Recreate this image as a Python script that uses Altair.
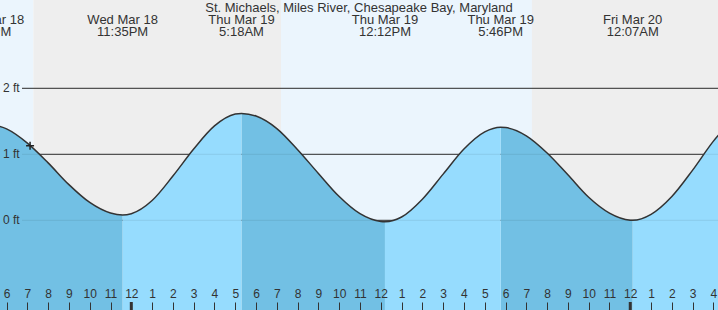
import altair as alt
import pandas as pd

# ---- data ----
title_text = "St. Michaels, Miles River, Chesapeake Bay, Maryland"

# tide level (ft) vs hours from midnight Thu Mar 19
hours = [-6.85, -6, -5, -4, -3, -2, -1, -0.417, 0, 1, 2, 3, 4, 5, 5.3,
         6, 7, 8, 9, 10, 11, 12, 12.2, 13, 14, 15, 16, 17, 17.767,
         18, 19, 20, 21, 22, 23, 24, 24.117, 25, 26, 27, 28, 29]
levels = [1.46, 1.385, 1.17, 0.87, 0.54, 0.27, 0.11, 0.08, 0.10, 0.30, 0.67, 1.08, 1.43, 1.61, 1.62,
          1.58, 1.39, 1.07, 0.71, 0.36, 0.10, -0.017, -0.02, 0.05, 0.32, 0.70, 1.08, 1.34, 1.41,
          1.405, 1.28, 1.02, 0.69, 0.35, 0.11, 0.002, 0.0, 0.09, 0.36, 0.76, 1.20, 1.55]

ext_hours = [-6.85, -0.417, 5.3, 12.2, 17.767, 24.117]
ext_dates = ["Wed Mar 18", "Wed Mar 18", "Thu Mar 19", "Thu Mar 19", "Thu Mar 19", "Fri Mar 20"]
ext_times = ["5:09PM", "11:35PM", "5:18AM", "12:12PM", "5:46PM", "12:07AM"]
ext_kind = ["high", "low", "high", "low", "high", "low"]

sky_start = [-7, -4.71, 7.20, 19.27]
sky_end = [-4.71, 7.20, 19.27, 29]
sky_kind = ["day", "night", "day", "night"]

grid_ft = [2, 1, 0]
grid_labels = ["2 ft", "1 ft", "0 ft"]
tick_hours = list(range(-6, 29))
midnights = [0, 24]
now_hour = [-4.87]
now_level = [1.13]
water_floor = -1.5

# ---- tables ----
curve = pd.DataFrame({"h": hours, "v": levels})

seg_rows = []
bounds = ext_hours + [hours[-1]]
for i in range(len(ext_hours)):
    lo, hi = bounds[i], bounds[i + 1]
    phase = "falling" if ext_kind[i] == "high" else "rising"
    for h, v in zip(hours, levels):
        if lo - 1e-9 <= h <= hi + 1e-9:
            seg_rows.append({"h": h, "v": v, "base": water_floor, "seg": i, "phase": phase})
segs = pd.DataFrame(seg_rows)
falling = segs[segs["phase"] == "falling"]
rising = segs[segs["phase"] == "rising"]

ext = pd.DataFrame({"h": ext_hours, "d": ext_dates, "t": ext_times})
sky = pd.DataFrame({"h": sky_start, "h2": sky_end, "kind": sky_kind})
day = sky[sky["kind"] == "day"]
night = sky[sky["kind"] == "night"]
grid = pd.DataFrame({"v": grid_ft, "lab": grid_labels})
mid = pd.DataFrame({"h": midnights})
now = pd.DataFrame({"h": now_hour, "v": now_level})
ttl = pd.DataFrame({"t": [title_text]})

FONT = "Liberation Sans"
TXT = "#333333"

xs = alt.Scale(domain=[-6.316, 28.22], nice=False, zero=False)
ys = alt.Scale(domain=[-1.359, 3.338], nice=False, zero=False)

x_axis = alt.Axis(values=tick_hours,
                  labelExpr="(((datum.value % 12) + 12) % 12) == 0 ? '12' : '' + (((datum.value % 12) + 12) % 12)",
                  domain=False, grid=False, ticks=True, tickSize=8, tickColor="#333333",
                  tickWidth=1, offset=-8, labelPadding=-21.5, labelFontSize=12,
                  labelFont=FONT, labelColor=TXT, title=None, labelOverlap=False,
                  labelFlush=False, labelBound=False, zindex=1)
X = alt.X("h:Q", scale=xs, axis=x_axis)
Y = alt.Y("v:Q", scale=ys, axis=None)


def band_layer(df, col):
    return alt.Chart(df).mark_rect(color=col).encode(
        x=X, x2="h2:Q", y=alt.value(0), y2=alt.value(310)
    )


def water_layer(df, col):
    return alt.Chart(df).mark_area(interpolate="monotone", color=col, opacity=1).encode(
        x=X, y=Y, y2="base:Q", detail="seg:N"
    )


day_bands = band_layer(day, "#ebf5fd")
night_bands = band_layer(night, "#eeeeee")

grid_dark = alt.Chart(grid).mark_rule(color="#333333", strokeWidth=1).encode(
    y=Y, x=alt.value(22), x2=alt.value(718)
)

water_fall = water_layer(falling, "#72c0e4")
water_rise = water_layer(rising, "#96dcfe")

grid_faint = alt.Chart(grid).mark_rule(color="#000000", opacity=0.08, strokeWidth=1).encode(
    y=Y, x=alt.value(22), x2=alt.value(718)
)

line = alt.Chart(curve).mark_line(interpolate="monotone", color="#333333", strokeWidth=1.5).encode(
    x=X, y=Y
)

ylabels = alt.Chart(grid).mark_text(align="left", baseline="middle", font=FONT, fontSize=12, color=TXT).encode(
    y=Y, x=alt.value(3), text="lab:N"
)

ext_d = alt.Chart(ext).mark_text(align="center", baseline="alphabetic", font=FONT, fontSize=13, color=TXT).encode(
    x=X, y=alt.value(24), text="d:N"
)
ext_t = alt.Chart(ext).mark_text(align="center", baseline="alphabetic", font=FONT, fontSize=13, color=TXT).encode(
    x=X, y=alt.value(36), text="t:N"
)
title = alt.Chart(ttl).mark_text(align="center", baseline="alphabetic", font=FONT, fontSize=13, color=TXT).encode(
    x=alt.value(359), y=alt.value(12), text="t:N"
)

mid_ticks = alt.Chart(mid).mark_rule(color="#333333", strokeWidth=3).encode(
    x=X, y=alt.value(302), y2=alt.value(310)
)

marker = alt.Chart(now).mark_point(shape="M-1,0L1,0M0,-1L0,1", size=64, filled=False,
                                   stroke="#222222", strokeWidth=1.5, opacity=1).encode(
    x=X, y=Y
)

chart = alt.layer(
    day_bands, night_bands, grid_dark, water_fall, water_rise, grid_faint, line,
    ylabels, ext_d, ext_t, title, mid_ticks, marker
).properties(
    width=718, height=310, autosize=alt.AutoSizeParams(type="none"), padding=0
).configure_view(stroke=None)

chart.save("out.html", embed_options={"renderer": "svg", "actions": False})
